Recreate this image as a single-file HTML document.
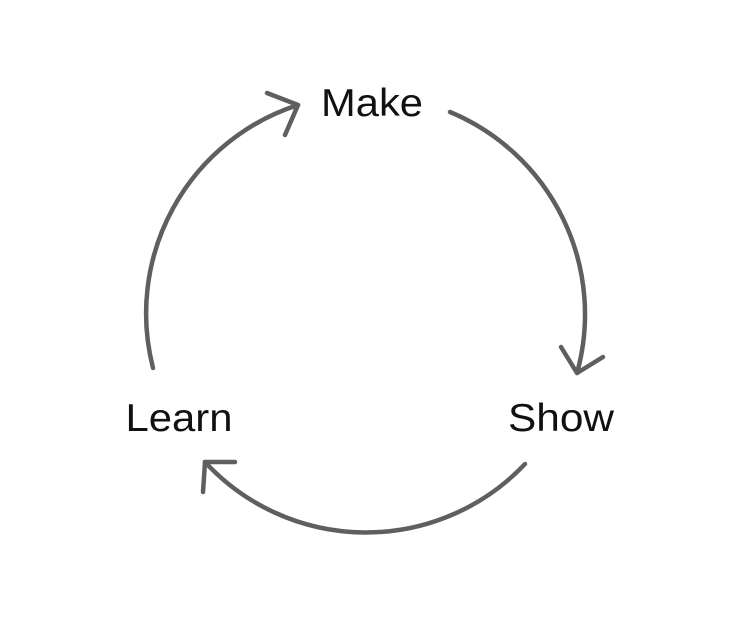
<!DOCTYPE html>
<html><head><style>html,body{margin:0;padding:0;background:#fff;}svg{display:block}</style></head>
<body>
<svg width="730" height="634" viewBox="0 0 730 634" xmlns="http://www.w3.org/2000/svg">
<g fill="none" stroke="#5f5f5f" stroke-width="4.5" stroke-linecap="round" stroke-linejoin="round">
<path d="M450 112 A219 219 0 0 1 577 373"/>
<path d="M561 347 L577 373 L603 357"/>
<path d="M525 464 A219 219 0 0 1 205 462"/>
<path d="M235 462 L205 462 L203 492"/>
<path d="M153 368 A219 219 0 0 1 298 105"/>
<path d="M267 93 L298 105 L285 135"/>
</g>
<g font-family="Liberation Sans, sans-serif" font-size="39" fill="#111">
<text x="372" y="116" text-anchor="middle" textLength="102" lengthAdjust="spacingAndGlyphs">Make</text>
<text x="179" y="431" text-anchor="middle" textLength="107" lengthAdjust="spacingAndGlyphs">Learn</text>
<text x="561" y="431" text-anchor="middle" textLength="106" lengthAdjust="spacingAndGlyphs">Show</text>
</g>
</svg>
</body></html>
